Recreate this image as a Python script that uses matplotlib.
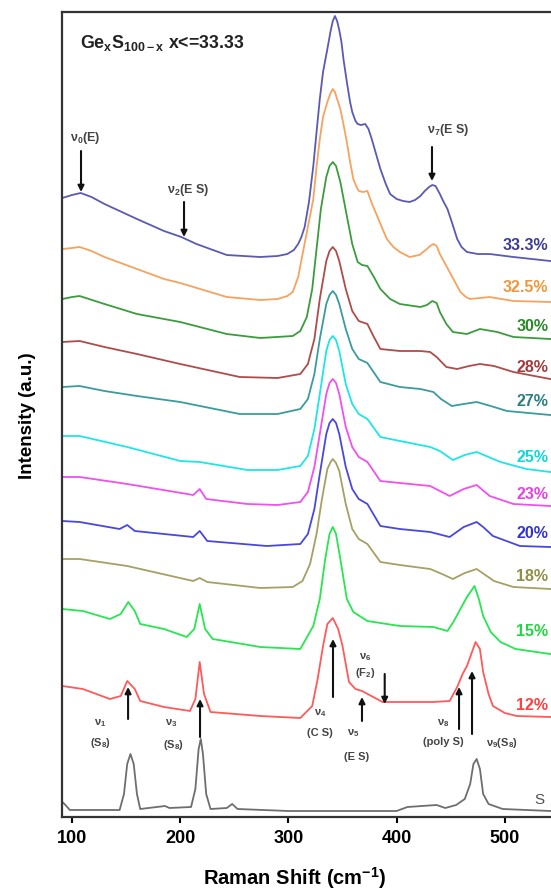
import matplotlib
matplotlib.use("Agg")
import matplotlib.pyplot as plt

plt.rcParams['font.family'] = ['Liberation Sans', 'DejaVu Sans']
plt.rcParams['font.weight'] = 'bold'
plt.rcParams['mathtext.fontset'] = 'custom'
plt.rcParams['mathtext.rm'] = 'Liberation Sans:bold'
plt.rcParams['mathtext.it'] = 'Liberation Sans:bold'
plt.rcParams['mathtext.bf'] = 'Liberation Sans:bold'
plt.rcParams['mathtext.default'] = 'rm'

# Raman spectra of GexS100-x glasses (shift in cm-1, intensity in a.u., stacked)
shift_333 = [91, 100, 108, 118, 130, 160, 185, 201, 215, 243, 274, 290, 299, 305, 309, 312, 315, 319, 323, 326, 329, 332, 336, 339, 341, 343, 345, 347, 349, 351, 354, 357, 359, 362, 364, 367, 371, 374, 377, 381, 385, 390, 394, 400, 406, 412, 417, 422, 426, 430, 433, 436, 440, 443, 447, 451, 456, 460, 465, 470, 475, 486, 508, 542]
int_333 = [619, 622, 624, 620, 613, 598, 586, 580, 573, 562, 560, 561, 563, 567, 573, 580, 590, 615, 651, 685, 718, 745, 768, 786, 796, 801, 796, 787, 775, 757, 735, 715, 705, 696, 693, 692, 693, 688, 678, 663, 648, 633, 623, 618, 616, 615, 617, 621, 626, 630, 632, 631, 623, 616, 608, 595, 578, 570, 565, 564, 563, 563, 560, 556]

shift_325 = [91, 100, 107, 118, 130, 160, 185, 200, 243, 274, 290, 299, 304, 309, 314, 318, 323, 326, 329, 332, 336, 339, 341, 343, 345, 348, 351, 354, 357, 360, 363, 365, 369, 373, 377, 382, 387, 391, 397, 403, 412, 421, 428, 431, 434, 437, 440, 444, 449, 454, 459, 464, 468, 486, 508, 542]
int_325 = [568, 569, 570, 566, 560, 548, 538, 534, 520, 517, 518, 521, 525, 540, 568, 590, 618, 650, 678, 700, 715, 724, 728, 725, 718, 708, 692, 675, 655, 638, 630, 626, 625, 626, 614, 601, 588, 578, 570, 565, 560, 562, 568, 571, 573, 571, 563, 555, 545, 535, 525, 520, 518, 520, 516, 515]

shift_30 = [91, 100, 107, 130, 160, 200, 243, 274, 304, 311, 317, 322, 326, 330, 335, 338, 341, 344, 348, 351, 354, 359, 364, 368, 373, 379, 385, 394, 403, 422, 428, 433, 437, 440, 446, 452, 465, 477, 493, 508, 542]
int_30 = [518, 520, 521, 513, 503, 495, 483, 479, 481, 486, 500, 528, 568, 608, 640, 651, 655, 651, 635, 618, 601, 573, 555, 552, 551, 540, 528, 518, 513, 510, 512, 516, 514, 505, 493, 485, 483, 488, 485, 480, 478]

shift_28 = [91, 107, 130, 160, 200, 255, 290, 311, 318, 324, 329, 335, 338, 341, 344, 347, 353, 359, 365, 373, 379, 385, 403, 422, 431, 437, 446, 456, 467, 477, 490, 508, 542]
int_28 = [475, 476, 470, 463, 453, 440, 439, 443, 453, 478, 518, 556, 566, 570, 566, 556, 528, 506, 496, 493, 480, 468, 466, 466, 465, 460, 450, 448, 451, 453, 451, 445, 438]

shift_27 = [91, 107, 130, 160, 200, 255, 290, 311, 318, 324, 329, 335, 338, 341, 344, 347, 353, 359, 365, 373, 385, 403, 422, 434, 441, 451, 462, 474, 487, 502, 542]
int_27 = [430, 431, 426, 421, 415, 403, 403, 408, 418, 443, 478, 513, 522, 526, 522, 513, 488, 468, 458, 454, 435, 430, 428, 425, 418, 411, 413, 415, 411, 406, 402]

shift_25 = [91, 107, 151, 200, 218, 262, 290, 311, 318, 324, 329, 335, 338, 341, 344, 347, 353, 359, 365, 373, 385, 403, 431, 440, 452, 463, 474, 485, 496, 520, 542]
int_25 = [381, 381, 370, 356, 355, 347, 347, 351, 361, 388, 423, 466, 477, 481, 477, 466, 433, 413, 403, 398, 380, 376, 370, 366, 357, 362, 365, 360, 355, 348, 345]

shift_23 = [91, 107, 151, 212, 218, 224, 262, 290, 311, 318, 324, 329, 335, 338, 341, 344, 347, 353, 359, 365, 373, 385, 403, 431, 440, 449, 462, 474, 486, 508, 542]
int_23 = [340, 340, 333, 322, 328, 318, 313, 312, 315, 325, 350, 383, 423, 434, 438, 434, 423, 390, 370, 360, 355, 336, 334, 331, 326, 321, 328, 332, 321, 313, 311]

shift_20 = [91, 107, 144, 151, 158, 212, 218, 225, 280, 311, 318, 324, 329, 335, 338, 341, 344, 347, 353, 359, 365, 373, 385, 403, 431, 449, 462, 474, 480, 489, 514, 542]
int_20 = [296, 295, 288, 292, 286, 280, 286, 276, 271, 273, 283, 308, 343, 383, 394, 398, 394, 383, 350, 328, 318, 313, 291, 288, 285, 280, 290, 295, 290, 281, 271, 270]

shift_18 = [91, 107, 151, 212, 218, 225, 274, 304, 313, 320, 326, 331, 336, 339, 341, 344, 347, 353, 359, 365, 373, 385, 403, 431, 442, 452, 463, 474, 490, 508, 542]
int_18 = [258, 258, 251, 236, 239, 235, 229, 230, 236, 253, 283, 318, 348, 355, 358, 354, 346, 313, 288, 278, 273, 255, 252, 248, 243, 238, 244, 248, 236, 230, 228]

shift_15 = [91, 110, 135, 145, 152, 158, 163, 185, 206, 213, 218, 223, 230, 274, 311, 323, 329, 334, 338, 341, 344, 348, 354, 360, 373, 403, 434, 447, 453, 459, 465, 472, 476, 480, 487, 496, 510, 542]
int_15 = [208, 206, 198, 203, 215, 206, 193, 188, 180, 188, 213, 188, 178, 170, 168, 191, 218, 258, 283, 290, 283, 258, 218, 205, 196, 191, 190, 186, 196, 208, 220, 231, 218, 201, 185, 175, 168, 163]

shift_12 = [91, 110, 135, 145, 151, 158, 163, 185, 209, 214, 218, 222, 228, 274, 311, 322, 327, 332, 336, 341, 346, 350, 356, 362, 368, 387, 434, 449, 456, 461, 465, 469, 473, 477, 480, 485, 489, 500, 511, 542]
int_12 = [131, 128, 118, 121, 136, 128, 116, 110, 106, 118, 155, 123, 105, 101, 99, 111, 138, 171, 193, 199, 188, 171, 135, 128, 126, 115, 115, 116, 130, 143, 151, 163, 175, 168, 145, 123, 111, 104, 101, 100]

shift_s = [91, 93, 98, 144, 148, 151, 154, 157, 160, 163, 186, 190, 210, 214, 217, 219, 221, 224, 228, 243, 248, 253, 300, 400, 410, 437, 445, 455, 463, 468, 471, 474, 477, 480, 485, 498, 542]
int_s = [15, 13, 7, 7, 23, 53, 63, 53, 23, 8, 11, 9, 10, 28, 68, 78, 63, 23, 8, 9, 13, 8, 6, 6, 10, 12, 9, 12, 18, 33, 53, 58, 48, 23, 13, 8, 6]

labels = ["33.3%", "32.5%", "30%", "28%", "27%", "25%", "23%", "20%", "18%", "15%", "12%", "S"]
label_y = [573, 531, 491, 450, 416, 360, 323, 285, 241, 186, 112, 18]
colors = ["#5a5ab4", "#f5a35f", "#3c9c3c", "#b04b4b", "#3a9c9c", "#1ee6e6",
          "#f050f0", "#4848e0", "#a5a064", "#28e650", "#ff5a5a", "#6e6e6e"]
text_colors = ["#3c3c96", "#f0963c", "#2a8a2a", "#a03c3c", "#2a8080", "#10d8d8",
               "#e640e6", "#3434d0", "#909048", "#20d840", "#ff4040", "#505050"]

shifts = [shift_333, shift_325, shift_30, shift_28, shift_27, shift_25,
          shift_23, shift_20, shift_18, shift_15, shift_12, shift_s]
intens = [int_333, int_325, int_30, int_28, int_27, int_25,
          int_23, int_20, int_18, int_15, int_12, int_s]

fig = plt.figure(figsize=(5.51, 8.95), dpi=100)
ax = fig.add_axes([62.3 / 551, 77 / 895, 1 - 62.3 / 551, 805.5 / 895])

for x, y, c in zip(shifts, intens, colors):
    ax.plot(x, y, color=c, lw=1.3)

for lab, ly, tc in zip(labels, label_y, text_colors):
    if lab == "S":
        ax.text(527, ly, lab, color=tc, fontsize=11, fontweight='normal', ha='left', va='center')
    else:
        ax.text(540, ly, lab, color=tc, fontsize=11.5, ha='right', va='center')

ax.set_xlim(91, 542.7)
ax.set_ylim(0, 805.5)
ax.set_xticks([100, 200, 300, 400, 500])
ax.set_yticks([])
ax.tick_params(axis='x', direction='out', length=4, width=1.5, labelsize=13, pad=5)
for side in ['left', 'bottom', 'top']:
    ax.spines[side].set_linewidth(1.6)
    ax.spines[side].set_color('#333333')
ax.spines['right'].set_visible(False)

ax.text(107, 775, "Ge$_x$S$_{100-x}$ x<=33.33", fontsize=12.8, ha='left', va='center', color='#222222')

arrow = dict(arrowstyle='-|>', lw=1.5, color='#111111', mutation_scale=9, shrinkA=0, shrinkB=0)
small = dict(fontsize=8, color='#444444', ha='center', va='center')
top_small = dict(fontsize=9, color='#444444', ha='center', va='center')

# top annotations
ax.text(112, 680, "ν$_0$(E)", **top_small)
ax.annotate("", xy=(108.3, 625), xytext=(108.3, 666), arrowprops=arrow)
ax.text(207, 628, "ν$_2$(E S)", **top_small)
ax.annotate("", xy=(203.5, 580), xytext=(203.5, 615), arrowprops=arrow)
ax.text(447.5, 688, "ν$_7$(E S)", **top_small)
ax.annotate("", xy=(432.7, 636), xytext=(432.7, 670), arrowprops=arrow)

# bottom annotations
ax.text(126, 95, "ν$_1$", **small)
ax.text(126, 75, "(S$_8$)", **small)
ax.annotate("", xy=(151.8, 130), xytext=(151.8, 98), arrowprops=arrow)
ax.text(192, 95, "ν$_3$", **small)
ax.text(194, 73, "(S$_8$)", **small)
ax.annotate("", xy=(218.3, 118), xytext=(218.3, 80), arrowprops=arrow)
ax.text(329, 105, "ν$_4$", **small)
ax.text(329, 85, "(C S)", **small)
ax.annotate("", xy=(341.2, 178), xytext=(341.2, 120), arrowprops=arrow)
ax.text(360, 85, "ν$_5$", **small)
ax.text(363, 61, "(E S)", **small)
ax.annotate("", xy=(368, 120), xytext=(368, 96), arrowprops=arrow)
ax.text(371, 161, "ν$_6$", **small)
ax.text(371, 145, "(F$_2$)", **small)
ax.annotate("", xy=(389, 113), xytext=(389, 143), arrowprops=arrow)
ax.text(443, 95, "ν$_8$", **small)
ax.text(443, 76, "(poly S)", **small)
ax.annotate("", xy=(457.7, 130), xytext=(457.7, 88), arrowprops=arrow)
ax.text(497, 75, "ν$_9$(S$_8$)", **small)
ax.annotate("", xy=(469.7, 146), xytext=(469.7, 83), arrowprops=arrow)

fig.text(295 / 551, 1 - 878 / 895, "Raman Shift (cm$^{-1}$)", fontsize=14.5, ha='center', va='center')
fig.text(27 / 551, 1 - 416 / 895, "Intensity (a.u.)", fontsize=13.5, rotation=90, ha='center', va='center')

fig.savefig("out.png", dpi=100)
